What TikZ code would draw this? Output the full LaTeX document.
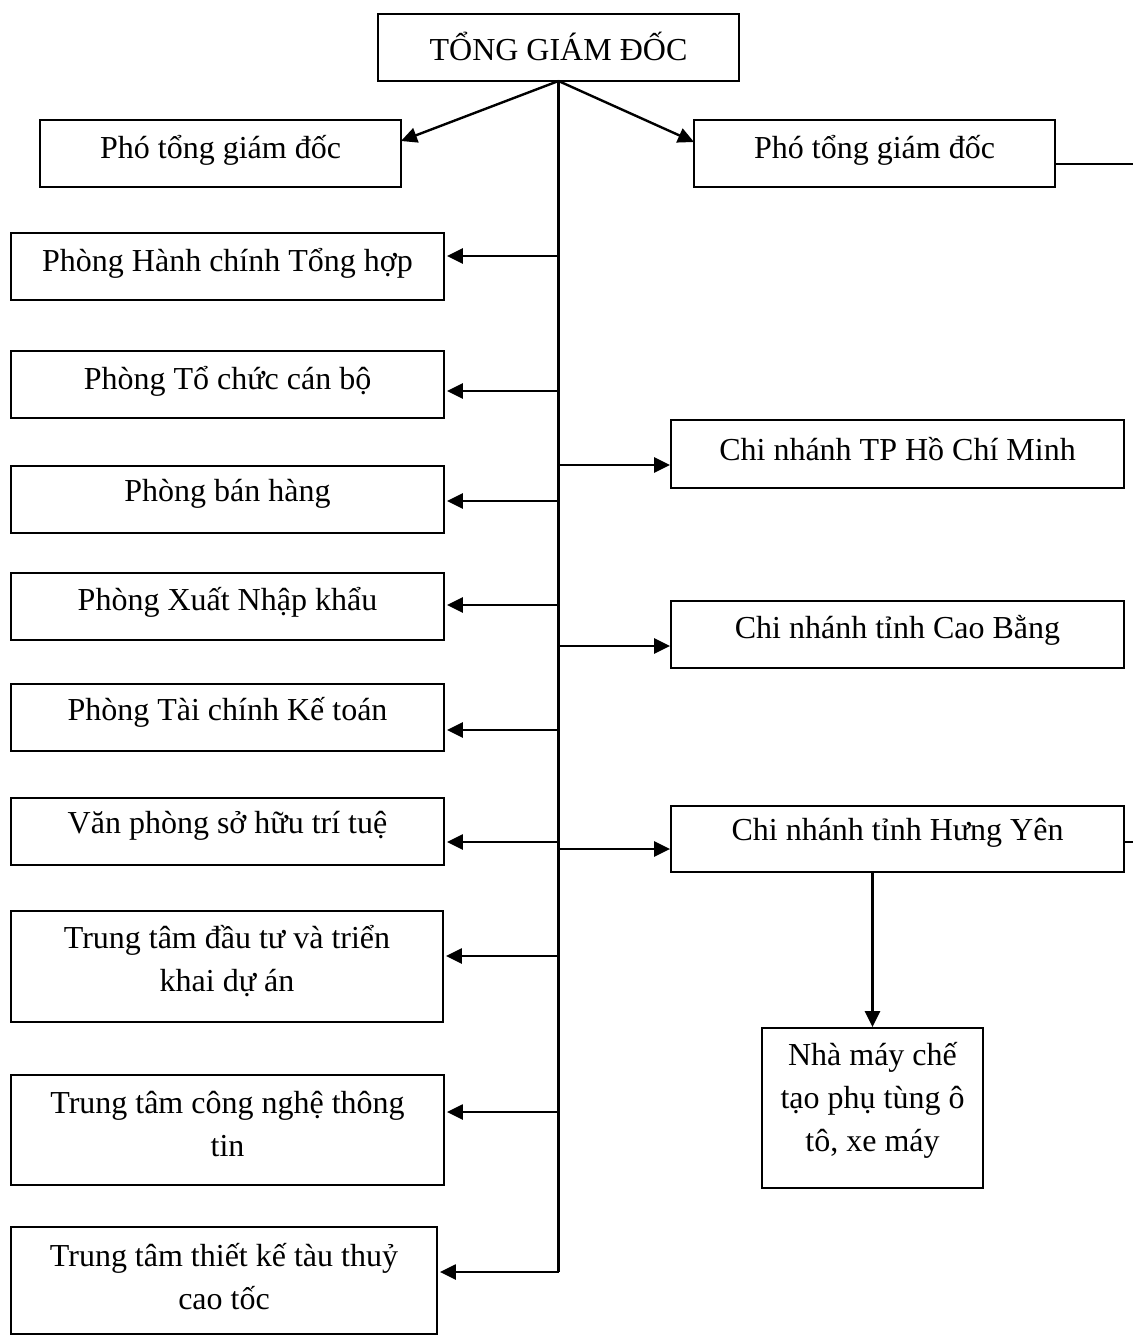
\documentclass[tikz,border=0pt]{standalone}
\usepackage{fontspec}
\setmainfont{Liberation Serif}
\usetikzlibrary{arrows.meta,calc}
\begin{document}
\begin{tikzpicture}[x=1pt,y=-1pt,
  box/.style={draw,line width=1.8pt,inner sep=0pt,rectangle},
  txt/.style={font=\fontsize{32}{43}\selectfont,align=center,inner sep=0pt},
  conn/.style={line width=2.4pt},
  arr/.style={line width=2.4pt,-{Triangle[length=16pt,width=15pt]},shorten >=2pt}]
\useasboundingbox (0,0) rectangle (1133,1336);
% top
\node[box,minimum width=361pt,minimum height=67pt] (tgd) at (558.5,47.5) {};
\node[txt] (tgdt) at (558.5,46) {TỔNG GIÁM ĐỐC};
\node[box,minimum width=361pt,minimum height=67pt] (pl) at (220.5,153.5) {};
\node[txt] (plt) at (220.5,150) {Phó tổng giám đốc};
\node[box,minimum width=361pt,minimum height=67pt] (pr) at (874.5,153.5) {};
\node[txt] (prt) at (874.5,150) {Phó tổng giám đốc};
% left boxes
\node[box,minimum width=433pt,minimum height=67pt] (b1) at (227.5,266.5) {};
\node[txt] at (227.5,263) {Phòng Hành chính Tổng hợp};
\node[box,minimum width=433pt,minimum height=67pt] (b2) at (227.5,384.5) {};
\node[txt] at (227.5,381) {Phòng Tổ chức cán bộ};
\node[box,minimum width=433pt,minimum height=67pt] (b3) at (227.5,499.5) {};
\node[txt] at (227.5,494) {Phòng bán hàng};
\node[box,minimum width=433pt,minimum height=67pt] (b4) at (227.5,606.5) {};
\node[txt] at (227.5,602) {Phòng Xuất Nhập khẩu};
\node[box,minimum width=433pt,minimum height=67pt] (b5) at (227.5,717.5) {};
\node[txt] at (227.5,712) {Phòng Tài chính Kế toán};
\node[box,minimum width=433pt,minimum height=67pt] (b6) at (227.5,831.5) {};
\node[txt] at (227.5,826) {Văn phòng sở hữu trí tuệ};
\node[box,minimum width=432pt,minimum height=111pt] (b7) at (227,966.5) {};
\node[txt] at (227,961) {Trung tâm đầu tư và triển\\khai dự án};
\node[box,minimum width=433pt,minimum height=110pt] (b8) at (227.5,1130) {};
\node[txt] at (227.5,1124) {Trung tâm công nghệ thông\\tin};
\node[box,minimum width=426pt,minimum height=107pt] (b9) at (224,1280.5) {};
\node[txt] at (224,1277) {Trung tâm thiết kế tàu thuỷ\\cao tốc};
% right boxes
\node[box,minimum width=453pt,minimum height=68pt] (r1) at (897.5,454) {};
\node[txt] at (897.5,449) {Chi nhánh TP Hồ Chí Minh};
\node[box,minimum width=453pt,minimum height=67pt] (r2) at (897.5,634.5) {};
\node[txt] at (897.5,630) {Chi nhánh tỉnh Cao Bằng};
\node[box,minimum width=453pt,minimum height=66pt] (r3) at (897.5,839) {};
\node[txt] at (897.5,833) {Chi nhánh tỉnh Hưng Yên};
\node[box,minimum width=221pt,minimum height=160pt] (nm) at (872.5,1108) {};
\node[txt] at (872.5,1100) {Nhà máy chế\\tạo phụ tùng ô\\tô, xe máy};
% connectors
\coordinate (top) at (558.5,81);
\coordinate (tend) at (558.5,1272);
\draw[conn] (top) -- (tend);
\draw[arr,shorten >=0pt] (top) -- (401,141);
\draw[arr,shorten >=0pt] (top) -- (694,142);
\foreach \n/\y in {b1/256,b2/391,b3/501,b4/605,b5/730,b6/842,b7/956,b8/1112,b9/1272}{
  \coordinate (t\n) at (558.5,\y);
  \draw[arr] (t\n) -- (t\n -| \n.east);
}
\foreach \n/\y in {r1/465,r2/646,r3/849}{
  \coordinate (t\n) at (558.5,\y);
  \draw[arr,shorten >=0pt] (t\n) -- (t\n -| \n.west);
}
\coordinate (e1) at (1133,164);
\draw[conn] (e1 -| pr.east) -- (e1);
\coordinate (e2) at (1133,842);
\draw[conn] (e2 -| r3.east) -- (e2);
\draw[arr,shorten >=0pt] (r3.south -| nm.north) -- (nm.north);
\end{tikzpicture}
\end{document}
